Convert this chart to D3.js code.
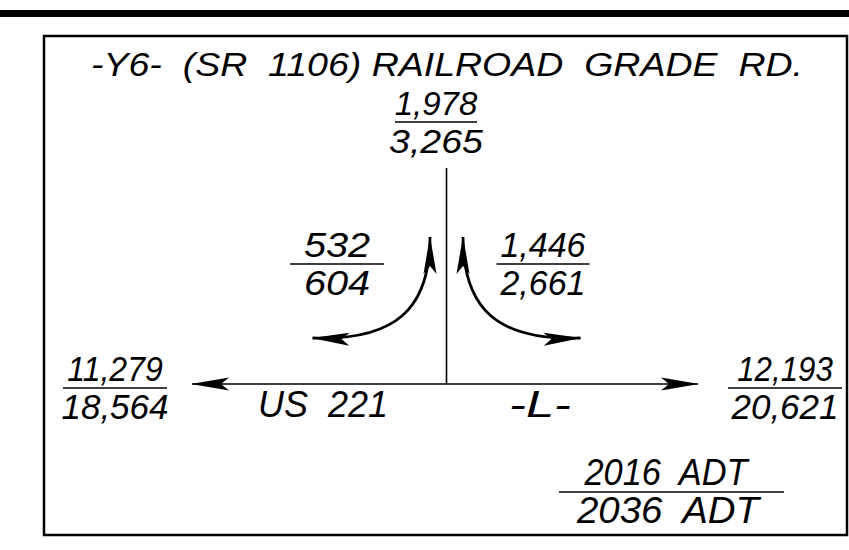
<!DOCTYPE html>
<html>
<head>
<meta charset="utf-8">
<script src="https://cdn.jsdelivr.net/npm/d3@7"></script>
<style>
  html, body { margin: 0; padding: 0; background: #fff; }
  svg { display: block; }
  text { font-family: "Liberation Sans", Arial, sans-serif; font-style: italic; fill: #000; }
</style>
</head>
<body>
<svg id="chart" width="849" height="550"></svg>
<script>
// traffic volumes (ADT)
var movements = ["-Y6- leg", "Y6 / US 221 west", "Y6 / US 221 east", "US 221 west leg", "US 221 east leg"];
var adt2016 = [1978, 532, 1446, 11279, 12193];
var adt2036 = [3265, 604, 2661, 18564, 20621];
var yearLabels = ["2016  ADT", "2036  ADT"];
var titleText = "-Y6-  (SR  1106) RAILROAD  GRADE  RD.";
var roadLabels = ["US  221", "-L-"];

var W = 849, H = 550;
var svg = d3.select("#chart");
var fmt = d3.format(",");

// CAD font has narrow ones and commas, so estimate width per char
function advance(c, size) {
    if (c === "1") return 0.30 * size;
    if (c === ",") return 0.24 * size;
    if (c === ".") return 0.26 * size;
    if (c === " ") return 0.36 * size;
    if (c === "-") return 0.45 * size;
    if (c === "(" || c === ")") return 0.30 * size;
    if (c === "I") return 0.30 * size;
    if (/[0-9]/.test(c)) return 0.63 * size;
    return 0.62 * size;
}
function textWidth(s, size) {
    var w = 0;
    for (var i = 0; i < s.length; i++) w += advance(s[i], size);
    return w;
}

function label(x, y, s, size, width) {
    return svg.append("text")
        .attr("x", x)
        .attr("y", y)
        .attr("text-anchor", "middle")
        .attr("font-size", size)
        .attr("textLength", width || textWidth(s, size))
        .attr("lengthAdjust", "spacingAndGlyphs")
        .style("white-space", "pre")
        .text(s);
}

// arrow head like the CAD dart
var defs = svg.append("defs");
defs.append("marker")
    .attr("id", "dart")
    .attr("viewBox", "-40 -8 42 16")
    .attr("refX", 0).attr("refY", 0)
    .attr("markerWidth", 42).attr("markerHeight", 16)
    .attr("markerUnits", "userSpaceOnUse")
    .attr("orient", "auto-start-reverse")
    .append("path")
    .attr("d", "M1,0 L-37,-6.5 L-29,0 L-37,6.5 Z")
    .attr("fill", "#000");

// frame
svg.append("rect").attr("x", 0).attr("y", 10).attr("width", W).attr("height", 7).attr("fill", "#000");
svg.append("rect")
    .attr("x", 44).attr("y", 36).attr("width", 803).attr("height", 499)
    .attr("fill", "none").attr("stroke", "#000").attr("stroke-width", 2.5);

label(447, 76, titleText, 33, 712);

// intersection
var cx = 446.5, cy = 384;
var x = d3.scaleLinear().domain([-1, 1]).range([192, 698]);
var y = d3.scaleLinear().domain([0, 1]).range([cy, 168]);

svg.append("line")
    .attr("x1", cx).attr("x2", cx).attr("y1", y(0)).attr("y2", y(1))
    .attr("stroke", "#000").attr("stroke-width", 1.6);
svg.append("line")
    .attr("x1", x(-1)).attr("x2", x(1)).attr("y1", cy).attr("y2", cy)
    .attr("stroke", "#000").attr("stroke-width", 1.6)
    .attr("marker-start", "url(#dart)")
    .attr("marker-end", "url(#dart)");

// turning arrows, mirrored about the -Y6- line
[-1, 1].forEach(function(s) {
    var p = d3.path();
    p.moveTo(cx + s * 16.5, 237);
    p.bezierCurveTo(cx + s * 16.5, 308, cx + s * 50, 341, cx + s * 134, 338);
    svg.append("path")
        .attr("d", p.toString())
        .attr("fill", "none").attr("stroke", "#000").attr("stroke-width", 2.8)
        .attr("marker-start", "url(#dart)")
        .attr("marker-end", "url(#dart)");
});

// fractions: 2016 over 2036
var fracPos = [
    {x: 436, y: 122, w: 82, fs: 34},
    {x: 337, y: 264, w: 94, fs: 35},
    {x: 543, y: 264, w: 93, fs: 35},
    {x: 115, y: 388, w: 104, fs: 35},
    {x: 785, y: 388, w: 114, fs: 35}
];
movements.forEach(function(m, i) {
    var p = fracPos[i];
    svg.append("line")
        .attr("x1", p.x - p.w / 2).attr("x2", p.x + p.w / 2)
        .attr("y1", p.y).attr("y2", p.y)
        .attr("stroke", "#000").attr("stroke-width", 1.6);
    label(p.x, p.y - 7, fmt(adt2016[i]), p.fs);
    label(p.x, p.y + 31, fmt(adt2036[i]), p.fs);
});

// road names
label(323, 417, roadLabels[0], 36, 130);
label(540, 417, roadLabels[1], 36, 62);

// legend
svg.append("line")
    .attr("x1", 559).attr("x2", 784)
    .attr("y1", 492).attr("y2", 492)
    .attr("stroke", "#000").attr("stroke-width", 1.6);
label(666, 485, yearLabels[0], 36, 163);
label(668, 523, yearLabels[1], 36, 182);
</script>
</body>
</html>
